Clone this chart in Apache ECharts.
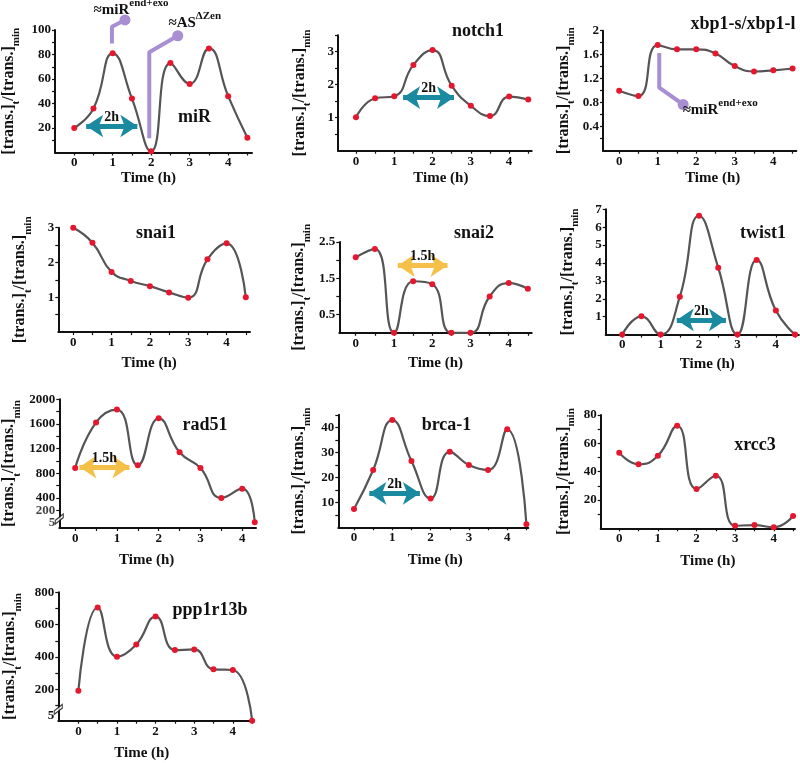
<!DOCTYPE html>
<html><head><meta charset="utf-8">
<script src="https://cdn.jsdelivr.net/npm/echarts@6/dist/echarts.min.js"></script>
<style>html,body{margin:0;padding:0;background:#fff}#c{width:800px;height:763px}</style>
</head><body><div id="c"></div>
<script>
// ---------- data ----------
const times      = [0, 0.5, 1, 1.5, 2, 2.5, 3, 3.5, 4, 4.5];
const timesRad51 = [0, 0.5, 1, 1.5, 2, 2.5, 3, 3.5, 4, 4.3];
const xTickLabels = [0, 1, 2, 3, 4];
const xTicks = [0, 0.5, 1, 1.5, 2, 2.5, 3, 3.5, 4, 4.5];

const miR      = [20, 36, 81, 44, 1, 73, 56, 85, 46, 12];
const notch1   = [1.01, 1.59, 1.65, 2.6, 3.05, 1.97, 1.36, 1.05, 1.64, 1.55];
const xbp1     = [1.0, 0.91, 1.76, 1.69, 1.69, 1.62, 1.41, 1.32, 1.34, 1.37];
const snai1    = [3.0, 2.57, 1.73, 1.47, 1.32, 1.14, 0.99, 2.09, 2.55, 1.0];
const snai2    = [2.08, 2.31, 0, 1.42, 1.34, 0, 0, 1.0, 1.37, 1.21];
const twist1   = [0, 1.02, 0, 2.12, 6.64, 3.74, 0, 4.17, 1.34, 0];
const rad51    = [885, 1625, 1833, 930, 1692, 1140, 885, 400, 550, 5];
const brca1    = [7.3, 22.9, 42.9, 26.5, 11.5, 30.2, 24.9, 22.9, 39.2, 1.2];
const xrcc3    = [53.4, 45.2, 51.2, 72.4, 27.7, 37.1, 1.8, 2.3, 0.7, 8.7];
const ppp1r13b = [190, 706, 401, 477, 650, 442, 446, 323, 319, 5];

// y tick labels / ticks
const yLab_miR = [20, 40, 60, 80, 100],           yTick_miR = [10,20,30,40,50,60,70,80,90,100];
const yLab_notch1 = [1, 2, 3],                     yTick_notch1 = [0.5,1,1.5,2,2.5,3,3.5];
const yLab_xbp1 = [0.4, 0.8, 1.2, 1.6, 2],         yTick_xbp1 = [0.2,0.4,0.6,0.8,1,1.2,1.4,1.6,1.8,2];
const yLab_snai1 = [1, 2, 3],                      yTick_snai1 = [0.5,1,1.5,2,2.5,3];
const yLab_snai2 = [0.5, 1.5, 2.5],                yTick_snai2 = [0.5,1,1.5,2,2.5];
const yLab_twist1 = [1, 2, 3, 4, 5, 6, 7],         yTick_twist1 = [1,2,3,4,5,6,7];
const yLab_rad51 = [400, 800, 1200, 1600, 2000],   yTick_rad51 = [200,400,600,800,1000,1200,1400,1600,1800,2000];
const yLab_rad51_low = [5, 200];   // closely packed labels near the axis break
const yLab_brca1 = [10, 20, 30, 40],               yTick_brca1 = [5,10,15,20,25,30,35,40,45];
const yLab_xrcc3 = [20, 40, 60, 80],               yTick_xrcc3 = [10,20,30,40,50,60,70,80];
const yLab_ppp = [5, 200, 400, 600, 800],          yTick_ppp = [100,200,300,400,500,600,700,800];

// annotations (data coordinates)
const miR_arrow    = [[0.31, 21.6], [1.64, 21.6]];
const notch1_arrow = [[1.23, 1.61], [2.56, 1.61]];
const snai2_arrow  = [[1.10, 1.85], [2.40, 1.85]];
const twist1_arrow = [[1.42, 0.82], [2.70, 0.82]];
const rad51_arrow  = [[0.10, 900], [1.30, 900]];
const brca1_arrow  = [[0.40, 13.6], [1.72, 13.6]];
const miR_noteEndExo  = [[0.98, 89], [0.98, 102.7], [1.32, 108.2]];
const miR_noteAS      = [[1.95, 11.6], [1.95, 81.8], [2.69, 95.3]];
const xbp1_noteEndExo = [[1.04, 1.63], [1.04, 1.05], [1.66, 0.77]];
const rad51_break = [[-0.38, 58]];
const ppp_break   = [[-0.52, 75]];

// ---------- style ----------
const SERIF = '"Liberation Serif","Times New Roman",serif';
const RED = '#e5172f', GRAY = '#555555', PURPLE = '#a88fd2', TEAL = '#1a8aa0', YELLOW = '#f4c04a';

const panels = [
  {label:'miR', t:times, v:miR, grid:[55,30,197,122.5], x:[-0.5,4.62], y:[0,100], yl:yLab_miR, yt:yTick_miR, yGap:33, xGap:18, xShift:-5, lp:[194.5,117],
   arrow:miR_arrow, ac:TEAL, at:'2h',
   notes:[{pts:miR_noteEndExo, text:'{a|≈miR}{b|end+exo}', off:[6,-12]}, {pts:miR_noteAS, text:'{a|≈AS}{b|ΔZen}', off:[17,-15]}]},
  {label:'notch1', t:times, v:notch1, grid:[338,35.2,193.7,115.5], x:[-0.47,4.59], y:[0,3.5], yl:yLab_notch1, yt:yTick_notch1, yGap:25, xGap:20, xShift:6, lp:[478,31.7],
   arrow:notch1_arrow, ac:TEAL, at:'2h'},
  {label:'xbp1-s/xbp1-l', t:times, v:xbp1, grid:[603,30.7,193.4,120], x:[-0.42,4.6], y:[0,2], yl:yLab_xbp1, yt:yTick_xbp1, yGap:26, xGap:20, xShift:13, lp:[743,24],
   notes:[{pts:xbp1_noteEndExo, text:'{a|≈miR}{b|end+exo}', off:[37,3]}]},
  {label:'snai1', t:times, v:snai1, grid:[58.3,227.7,191.7,104.4], x:[-0.39,4.61], y:[0,3], yl:yLab_snai1, yt:yTick_snai1, yGap:25, xGap:24, xShift:-5, lp:[156,233.3]},
  {label:'snai2', t:times, v:snai2, grid:[339.3,242,192.4,90.8], x:[-0.43,4.6], y:[0,2.5], yl:yLab_snai2, yt:yTick_snai2, yGap:27, xGap:23, xShift:0, lp:[474,233.3],
   arrow:snai2_arrow, ac:YELLOW, at:'1.5h'},
  {label:'twist1', t:times, v:twist1, grid:[605.7,209.3,193.2,125.3], x:[-0.43,4.6], y:[0,7], yl:yLab_twist1, yt:yTick_twist1, yGap:25, xGap:22.5, xShift:5, lp:[763,233.3],
   arrow:twist1_arrow, ac:TEAL, at:'2h'},
  {label:'rad51', t:timesRad51, v:rad51, grid:[59.3,399.3,196.7,128.7], x:[-0.38,4.33], y:[-87.5,2000], yl:yLab_rad51, yt:yTick_rad51, yGap:37, xGap:25, xShift:-11, lp:[205,425],
   arrow:rad51_arrow, ac:YELLOW, at:'1.5h', brk:rad51_break, lowLabels:yLab_rad51_low},
  {label:'brca-1', t:times, v:brca1, grid:[338.3,414.8,190,112.5], x:[-0.41,4.55], y:[0,45], yl:yLab_brca1, yt:yTick_brca1, yGap:26, xGap:25, xShift:2, lp:[446.5,425.7],
   arrow:brca1_arrow, ac:TEAL, at:'2h'},
  {label:'xrcc3', t:times, v:xrcc3, grid:[600.7,415,194.3,113.3], x:[-0.48,4.55], y:[0,80], yl:yLab_xrcc3, yt:yTick_xrcc3, yGap:24, xGap:25, xShift:10, lp:[755,445.7]},
  {label:'ppp1r13b', t:times, v:ppp1r13b, grid:[58.3,592.3,195,128.4], x:[-0.52,4.53], y:[5,800], yl:yLab_ppp, yt:yTick_ppp, yGap:35, xGap:25, xShift:-14, lp:[210,610],
   raiseFirst:true, brk:ppp_break}
];

const yName = '{m|[trans.]}{s|t}{m|/[trans.]}{s|min}';
const yRich = {
  m: {fontFamily: SERIF, fontWeight: 'bold', fontSize: 16, color: '#111', verticalAlign: 'top'},
  s: {fontFamily: SERIF, fontWeight: 'bold', fontSize: 11, color: '#111', verticalAlign: 'top', padding: [10, 0, 0, 0]}
};
const noteRich = {
  a: {fontFamily: SERIF, fontWeight: 'bold', fontSize: 15, color: '#111', verticalAlign: 'top', padding: [5, 0, 0, 0]},
  b: {fontFamily: SERIF, fontWeight: 'bold', fontSize: 11, color: '#111', verticalAlign: 'top'}
};
const axisLabelStyle = {color: '#111', fontFamily: SERIF, fontWeight: 'bold', fontSize: 13};

const grid = [], xAxis = [], yAxis = [], series = [], graphic = [];
panels.forEach((p, i) => {
  grid.push({left: p.grid[0], top: p.grid[1], width: p.grid[2], height: p.grid[3], outerBoundsMode: 'none', containLabel: false});
  const sh = p.xShift;
  xAxis.push({
    gridIndex: i, type: 'value', min: p.x[0], max: p.x[1],
    name: 'Time (h)', nameLocation: 'middle', nameGap: p.xGap,
    nameTextStyle: {fontFamily: SERIF, fontWeight: 'bold', fontSize: 15, color: '#111',
      padding: [0, sh < 0 ? -2 * sh : 0, 0, sh > 0 ? 2 * sh : 0]},
    axisLine: {show: true, onZero: false, lineStyle: {color: '#111', width: 2}},
    axisTick: {show: true, customValues: xTicks, length: 3, lineStyle: {color: '#111', width: 1.2}},
    axisLabel: Object.assign({customValues: xTickLabels, margin: 4, hideOverlap: false, showMinLabel: true, showMaxLabel: true,
      formatter: v => String(v)}, axisLabelStyle),
    splitLine: {show: false}
  });
  const first = p.yl[0];
  yAxis.push({
    gridIndex: i, type: 'value', min: p.y[0], max: p.y[1],
    name: yName, nameLocation: 'middle', nameGap: p.yGap, nameRotate: 90,
    nameTextStyle: {rich: yRich},
    axisLine: {show: true, onZero: false, lineStyle: {color: '#111', width: 2}},
    axisTick: {show: true, customValues: p.yt, length: 3, lineStyle: {color: '#111', width: 1.2}},
    axisLabel: Object.assign({customValues: p.yl, margin: 4, hideOverlap: false, showMinLabel: true, showMaxLabel: true,
      formatter: v => (p.raiseFirst && v === first) ? '{lo|' + v + '}' : String(v),
      rich: {lo: {fontFamily: SERIF, fontWeight: 'bold', fontSize: 13, color: '#111', padding: [0, 0, 10, 0]}}
    }, axisLabelStyle),
    splitLine: {show: false}
  });
  const s = {
    type: 'line', xAxisIndex: i, yAxisIndex: i, smooth: 0.5,
    data: p.t.map((t, k) => [t, p.v[k]]),
    symbol: 'circle', symbolSize: 6, showSymbol: true,
    itemStyle: {color: RED}, lineStyle: {color: GRAY, width: 2.2}, z: 3,
    emphasis: {disabled: true}
  };
  if (p.arrow) {
    s.markLine = {
      silent: true, animation: false, symbol: ['arrow', 'arrow'], symbolSize: 17,
      lineStyle: {color: p.ac, width: 5, type: 'solid', opacity: 1},
      label: {show: true, formatter: p.at, position: 'insideMiddleTop', distance: 2,
        color: '#111', fontFamily: SERIF, fontWeight: 'bold', fontSize: 14},
      emphasis: {disabled: true},
      data: [[{coord: p.arrow[0]}, {coord: p.arrow[1]}]]
    };
  }
  series.push(s);
  (p.notes || []).forEach(n => {
    series.push({
      type: 'line', xAxisIndex: i, yAxisIndex: i, clip: false, smooth: false, z: 4,
      lineStyle: {color: PURPLE, width: 4}, itemStyle: {color: PURPLE}, showSymbol: true,
      emphasis: {disabled: true},
      data: n.pts.map((q, k) => k === n.pts.length - 1
        ? {value: q, symbol: 'circle', symbolSize: 11,
           label: {show: true, position: 'inside', offset: n.off, formatter: n.text, rich: noteRich}}
        : {value: q, symbol: 'none'})
    });
  });
  if (p.brk) {
    series.push({
      type: 'scatter', xAxisIndex: i, yAxisIndex: i, clip: false, z: 5, silent: true,
      symbol: 'path://M0,7 L8,0 L8,4 L0,11 Z', symbolSize: [8, 10],
      itemStyle: {color: '#fff', borderColor: '#111', borderWidth: 1.2},
      data: p.brk
    });
  }
  if (p.lowLabels) {
    // densely packed tick labels near the axis break, placed at their values on the y scale
    series.push({
      type: 'scatter', xAxisIndex: i, yAxisIndex: i, clip: false, z: 5, silent: true,
      symbolSize: 0, itemStyle: {color: 'transparent'},
      label: Object.assign({show: true, position: 'left', distance: 4, formatter: d => String(d.value[1])}, axisLabelStyle),
      labelLayout: {hideOverlap: false},
      data: p.lowLabels.map(v => [p.x[0], v])
    });
  }
  graphic.push({type: 'text', x: p.lp[0], y: p.lp[1], z: 10,
    style: {text: p.label, fill: '#111', font: 'bold 18px ' + SERIF, textAlign: 'center', textVerticalAlign: 'middle'}});
});

const chart = echarts.init(document.getElementById('c'), null, {renderer: 'canvas'});
chart.setOption({animation: false, backgroundColor: '#fff', grid, xAxis, yAxis, series, graphic});
</script></body></html>
